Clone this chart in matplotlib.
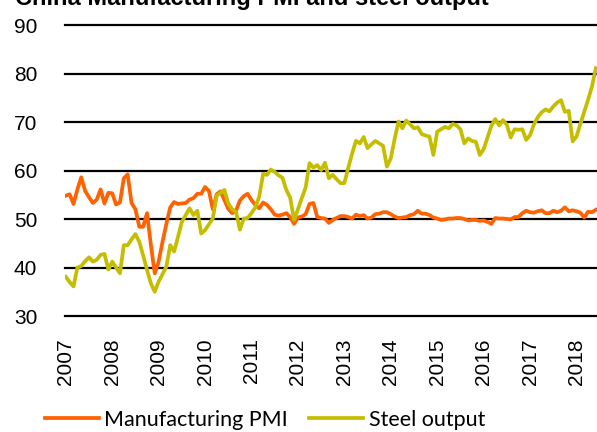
import matplotlib
matplotlib.use("Agg")
import matplotlib.pyplot as plt
import numpy as np

# Monthly data, Dec 2006 .. May 2018
years = ["2007", "2008", "2009", "2010", "2011", "2012", "2013",
         "2014", "2015", "2016", "2017", "2018"]

pmi = [54.8,
       55.1, 53.1, 56.1, 58.6, 55.8, 54.5, 53.3, 54.0, 56.1, 53.2, 55.4, 55.3,
       53.0, 53.4, 58.4, 59.2, 53.3, 52.0, 48.4, 48.4, 51.2, 44.6, 38.8, 41.2,
       45.3, 49.0, 52.4, 53.5, 53.1, 53.2, 53.3, 54.0, 54.3, 55.2, 55.2, 56.6,
       55.8, 52.0, 55.1, 55.7, 53.9, 52.1, 51.2, 51.7, 53.8, 54.7, 55.2, 53.9,
       52.9, 52.2, 53.4, 52.9, 52.0, 50.9, 50.7, 50.9, 51.2, 50.4, 49.0, 50.3,
       50.5, 51.0, 53.1, 53.3, 50.4, 50.2, 50.1, 49.2, 49.8, 50.2, 50.6, 50.6,
       50.4, 50.1, 50.9, 50.6, 50.8, 50.1, 50.3, 51.0, 51.1, 51.4, 51.4, 51.0,
       50.5, 50.2, 50.3, 50.4, 50.8, 51.0, 51.7, 51.1, 51.1, 50.8, 50.3, 50.1,
       49.8, 49.9, 50.1, 50.1, 50.2, 50.2, 50.0, 49.7, 49.8, 49.8, 49.6, 49.7,
       49.4, 49.0, 50.2, 50.1, 50.1, 50.0, 49.9, 50.4, 50.4, 51.2, 51.7, 51.4,
       51.3, 51.6, 51.8, 51.2, 51.2, 51.7, 51.4, 51.7, 52.4, 51.6, 51.8, 51.6,
       51.3, 50.3, 51.5, 51.4, 51.9]

steel = [38.1,
         37.0, 36.1, 40.0, 40.3, 41.3, 42.1, 41.2, 41.6, 42.6, 42.8, 39.6, 41.2,
         40.0, 38.8, 44.6, 44.6, 45.8, 46.9, 45.3, 42.5, 39.5, 36.7, 35.0, 37.1,
         38.6, 40.2, 44.6, 43.3, 46.3, 49.4, 50.8, 52.2, 50.8, 51.7, 47.0, 47.7,
         48.9, 50.1, 54.8, 55.4, 56.0, 53.2, 52.0, 51.5, 47.8, 50.1, 50.2, 51.2,
         52.4, 54.6, 59.3, 59.1, 60.2, 59.7, 59.0, 58.5, 56.0, 54.4, 49.8, 52.0,
         54.3, 56.5, 61.5, 60.6, 61.1, 60.1, 61.6, 58.4, 59.1, 58.2, 57.4, 57.4,
         60.5, 63.5, 66.1, 65.6, 66.9, 64.6, 65.4, 66.1, 65.6, 65.1, 60.8, 62.5,
         66.5, 70.1, 68.7, 70.3, 69.5, 68.7, 68.9, 67.5, 67.2, 67.0, 63.2, 68.0,
         68.5, 69.0, 68.7, 69.6, 69.3, 68.5, 65.6, 66.6, 66.1, 65.9, 63.2, 64.4,
         66.8, 69.2, 70.6, 69.3, 70.4, 69.4, 66.8, 68.5, 68.4, 68.5, 66.3, 67.3,
         69.5, 71.0, 72.0, 72.6, 72.2, 73.2, 74.0, 74.5, 72.1, 72.3, 66.0, 67.0,
         69.6, 72.1, 74.6, 77.3, 81.1]

yticks = [30, 40, 50, 60, 70, 80, 90]

ORANGE = "#FF6200"
OLIVE = "#C5BE00"

fig = plt.figure(figsize=(5.97, 4.32), dpi=100)
ax = fig.add_axes([65 / 597, 1 - 316 / 432, 1 - 65 / 597, (316 - 25) / 432])

x = np.arange(len(pmi))
ax.plot(x, pmi, color=ORANGE, lw=2.7, solid_joinstyle="round", zorder=3,
        label="Manufacturing PMI")
ax.plot(x, steel, color=OLIVE, lw=2.7, solid_joinstyle="round", zorder=4,
        label="Steel output")

ax.set_xlim(-0.2, 137.3)
ax.set_ylim(30, 90)
ax.set_yticks(yticks)
ax.set_xticks(np.arange(len(years)) * 12)
ax.set_xticklabels(years, rotation=90, family="Liberation Sans", fontsize=15)
for lab in ax.get_yticklabels():
    lab.set_family("Liberation Sans")
    lab.set_fontsize(15)
ax.tick_params(axis="both", length=0)
ax.tick_params(axis="y", pad=20)
ax.tick_params(axis="x", pad=16)

for y in yticks:
    ax.axhline(y, color="black", lw=1.6, zorder=1, clip_on=False)

for s in ax.spines.values():
    s.set_visible(False)

fig.text(15 / 597, 1 - 5 / 432, "China Manufacturing PMI and steel output",
         fontsize=17, fontweight="bold", family="Liberation Sans",
         va="baseline", ha="left")

fig.legend(loc="center", bbox_to_anchor=(265 / 597, 1 - 420 / 432), ncol=2,
           frameon=False, prop={"family": "Lato", "size": 15.5},
           handlelength=2.5, handletextpad=0.25, columnspacing=1.0,
           borderaxespad=0, borderpad=0)

fig.savefig("out.png", dpi=100)
